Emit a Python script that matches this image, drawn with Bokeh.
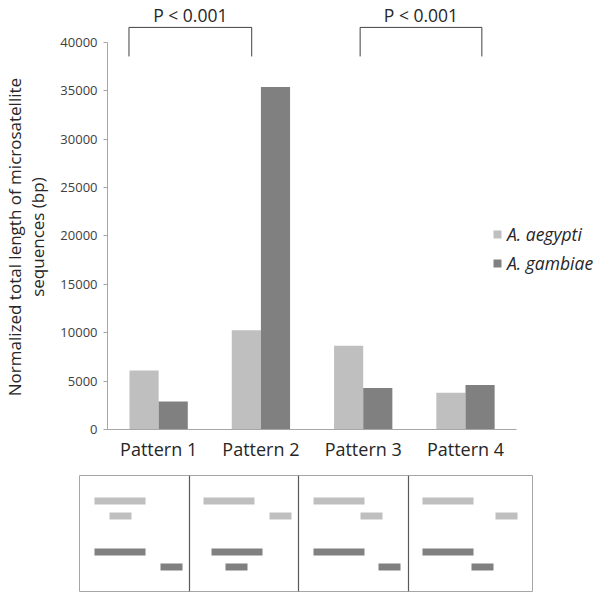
from bokeh.plotting import figure
from bokeh.layouts import column
from bokeh.models import Range1d, FixedTicker, Legend, LegendItem
from bokeh.core.properties import value
from bokeh.embed import file_html
from bokeh.resources import INLINE

# ---- data ----
patterns = ["Pattern 1", "Pattern 2", "Pattern 3", "Pattern 4"]
aegypti = [6100, 10250, 8650, 3800]
gambiae = [2900, 35400, 4300, 4600]
y_ticks = [0, 5000, 10000, 15000, 20000, 25000, 30000, 35000, 40000]
series_names = ["A. aegypti", "A. gambiae"]
series_colors = ["#BFBFBF", "#808080"]
y_label_lines = ["Normalized total length of microsatellite", "sequences (bp)"]

# significance brackets (category units) and their labels
bracket_x0 = [0.21, 2.47]
bracket_x1 = [1.41, 3.66]
bracket_top = 41560
bracket_bottom = 38560
bracket_label_y = 42890
bracket_labels = ["P < 0.001", "P < 0.001"]

# schematic panel below the chart (schematic units)
cell_edges = [0, 110, 219, 329, 453]
light_long_start = [15, 14, 15, 14]
light_short_start = [30, 80, 62, 87]
dark_long_start = [15, 22, 15, 14]
dark_short_start = [81, 36, 80, 63]
long_len = 51
short_len = 22
row_y = [25.5, 40.5, 76.5, 91.5]
row_h = 7

FONT = "Open Sans"
TXT = "#262626"
AX = "#A6A6A6"

# ---- main chart ----
n = len(patterns)
centers = [i + 0.5 for i in range(n)]
bw = 0.285

p = figure(width=600, height=465, x_range=Range1d(0, 4.82), y_range=Range1d(0, 44340),
           output_backend="svg", toolbar_location=None,
           min_border_left=101, min_border_right=0, min_border_top=0, min_border_bottom=36)
p.frame_align = False
p.outline_line_color = None
p.xgrid.visible = False
p.ygrid.visible = False
p.background_fill_color = "white"

r1 = p.vbar(x=[c - bw / 2 for c in centers], top=aegypti, width=bw, color=series_colors[0], line_color=None)
r2 = p.vbar(x=[c + bw / 2 for c in centers], top=gambiae, width=bw, color=series_colors[1], line_color=None)

xs = [[a, a, b, b] for a, b in zip(bracket_x0, bracket_x1)]
ys = [[bracket_bottom, bracket_top, bracket_top, bracket_bottom] for _ in bracket_x0]
p.multi_line(xs=xs, ys=ys, line_color="#404040", line_width=1)
p.text(x=[(a + b) / 2 for a, b in zip(bracket_x0, bracket_x1)], y=[bracket_label_y] * len(bracket_labels),
       text=bracket_labels, text_align="center", text_baseline="alphabetic",
       text_font=value(FONT), text_font_size=value("17.5px"), text_color=TXT)

xa = p.xaxis[0]
xa.ticker = FixedTicker(ticks=centers)
xa.major_label_overrides = {c: lab for c, lab in zip(centers, patterns)}
xa.bounds = (0, n)
xa.major_tick_line_color = None
xa.minor_tick_line_color = None
xa.axis_line_color = AX
xa.major_label_text_font = FONT
xa.major_label_text_font_size = "18px"
xa.major_label_text_color = TXT
xa.major_label_standoff = 1

ya = p.yaxis[0]
ya.ticker = FixedTicker(ticks=y_ticks)
ya.major_label_overrides = {t: str(t) for t in y_ticks}
ya.bounds = (0, y_ticks[-1])
ya.axis_line_color = AX
ya.major_tick_line_color = AX
ya.major_tick_out = 4
ya.major_tick_in = 0
ya.minor_tick_line_color = None
ya.major_label_text_font = FONT
ya.major_label_text_font_size = "13px"
ya.major_label_text_color = "#404040"
ya.major_label_standoff = 6
# trailing no-break spaces centre the label on the 0-40000 axis span instead of the whole frame
pad = "\u00a0" * 10
ya.axis_label = "\n".join(line + pad for line in y_label_lines)
ya.axis_label_text_font = FONT
ya.axis_label_text_font_size = "17px"
ya.axis_label_text_font_style = "normal"
ya.axis_label_text_line_height = 1.0
ya.axis_label_text_color = TXT
ya.axis_label_standoff = 8

legend = Legend(items=[LegendItem(label=series_names[0], renderers=[r1]),
                       LegendItem(label=series_names[1], renderers=[r2])],
                location=(385, 153), glyph_width=10, glyph_height=10,
                label_text_font=FONT, label_text_font_size="17.5px", label_text_font_style="italic",
                label_text_color=TXT, label_standoff=5, spacing=3, label_height=26,
                padding=0, margin=0, border_line_color=None, background_fill_alpha=0)
p.add_layout(legend)

# ---- schematic panel ----
p2 = figure(width=600, height=128, x_range=Range1d(cell_edges[0], cell_edges[-1]), y_range=Range1d(116, 0),
            output_backend="svg", toolbar_location=None, x_axis_location=None, y_axis_location=None,
            min_border_left=79, min_border_right=68, min_border_top=10, min_border_bottom=2)
p2.frame_align = False
p2.outline_line_color = AX
p2.xgrid.visible = False
p2.ygrid.visible = False

p2.segment(x0=cell_edges[1:-1], y0=[0] * (n - 1), x1=cell_edges[1:-1], y1=[116] * (n - 1),
           line_color="#595959", line_width=1.2)

def bars(starts, length, yc, color):
    lefts = [cell_edges[i] + s for i, s in enumerate(starts)]
    p2.quad(left=lefts, right=[l + length for l in lefts], top=[yc - row_h / 2] * n,
            bottom=[yc + row_h / 2] * n, fill_color=color, line_color=None)

bars(light_long_start, long_len, row_y[0], series_colors[0])
bars(light_short_start, short_len, row_y[1], series_colors[0])
bars(dark_long_start, long_len, row_y[2], series_colors[1])
bars(dark_short_start, short_len, row_y[3], series_colors[1])

layout = column(p, p2)
open("out.html", "w").write(file_html(layout, INLINE))
